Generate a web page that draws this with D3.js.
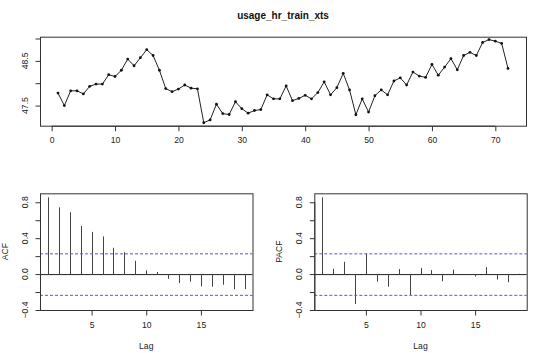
<!DOCTYPE html>
<html>
<head>
<meta charset="utf-8">
<script src="https://cdn.jsdelivr.net/npm/d3@7"></script>
<style>
  html, body { margin: 0; padding: 0; background: #fff; }
  svg { display: block; font-family: "Liberation Sans", Arial, Helvetica, sans-serif; }
</style>
</head>
<body>
<svg id="chart" width="540" height="353"></svg>
<script>
// ---- Data ----
const title = "usage_hr_train_xts";
const usageValues = [
  47.78, 47.50, 47.83, 47.83, 47.76, 47.93, 47.98, 47.98, 48.19, 48.15,
  48.29, 48.54, 48.39, 48.57, 48.75, 48.62, 48.29, 47.88, 47.81, 47.87,
  47.96, 47.89, 47.875, 47.116, 47.18, 47.53, 47.32, 47.30, 47.585, 47.43,
  47.33, 47.39, 47.41, 47.74, 47.65, 47.65, 47.94, 47.61, 47.66, 47.73,
  47.65, 47.79, 48.03, 47.74, 47.90, 48.22, 47.85, 47.295, 47.65, 47.355,
  47.72, 47.85, 47.74, 48.05, 48.12, 47.96, 48.25, 48.16, 48.13, 48.42,
  48.18, 48.36, 48.55, 48.30, 48.62, 48.69, 48.62, 48.91, 48.975, 48.94,
  48.89, 48.33
];
const lags = [1,2,3,4,5,6,7,8,9,10,11,12,13,14,15,16,17,18,19];
const acfValues = [0.855, 0.744, 0.689, 0.537, 0.470, 0.419, 0.293, 0.244, 0.148, 0.041,
  0.022, -0.052, -0.100, -0.085, -0.137, -0.141, -0.119, -0.170, -0.167];
const pacfValues = [0.855, 0.059, 0.137, -0.333, 0.233, -0.085, -0.141, 0.056, -0.233, 0.067,
  0.044, -0.080, 0.050, -0.004, -0.027, 0.078, -0.061, -0.091, 0.003];
const confLimit = 0.231;
const tsXTicks = [0, 10, 20, 30, 40, 50, 60, 70];
const tsYTicks = [47.5, 48.0, 48.5, 49.0];
const tsYLabels = [47.5, 48.5];
const cfXTicks = [5, 10, 15];
const cfYTicks = [-0.4, -0.2, 0.0, 0.2, 0.4, 0.6, 0.8];
const cfYLabels = [-0.4, 0.0, 0.4, 0.8];

const svg = d3.select("#chart");
const FS = 8.6;
const TXT = "#222";
const AX = "#333";

function box(g, x0, x1, y0, y1) {
  g.append("rect").attr("x", x0 + 0.5).attr("y", y0 + 0.5)
    .attr("width", x1 - x0).attr("height", y1 - y0)
    .attr("fill", "none").attr("stroke", AX).attr("stroke-width", 1);
}

function xAxis(g, scale, ticks, y) {
  const a = d3.axisBottom(scale).tickValues(ticks).tickSize(5).tickPadding(6)
    .tickFormat(d3.format("d"));
  const ag = g.append("g").attr("transform", `translate(0,${y + 0.5})`).call(a);
  ag.select(".domain").attr("stroke", AX)
    .attr("d", `M${scale(ticks[0])},0H${scale(ticks[ticks.length - 1])}`);
  ag.selectAll(".tick line").attr("stroke", AX);
  ag.selectAll(".tick text").attr("fill", TXT).style("font-size", FS + "px")
    .style("font-family", "Liberation Sans, Arial, sans-serif");
}

function yAxis(g, scale, ticks, labels, x, fmt) {
  const a = d3.axisLeft(scale).tickValues(ticks).tickSize(5).tickFormat("");
  const ag = g.append("g").attr("transform", `translate(${x + 0.5},0)`).call(a);
  ag.select(".domain").attr("stroke", AX)
    .attr("d", `M0,${scale(ticks[0])}V${scale(ticks[ticks.length - 1])}`);
  ag.selectAll(".tick line").attr("stroke", AX);
  labels.forEach(v => {
    g.append("text")
      .attr("transform", `translate(${x - 12},${scale(v)}) rotate(-90)`)
      .attr("text-anchor", "middle")
      .attr("fill", TXT).style("font-size", FS + "px")
      .text(fmt(v));
  });
}

// ---- Top: time series ----
{
  const L = 40, R = 526, T = 36.7, B = 125.7;
  const x = d3.scaleLinear().domain([1 - 0.04 * 71, 72 + 0.04 * 71]).range([L, R]);
  const y = d3.scaleLinear().domain([47.05, 49.04]).range([B, T]);
  const g = svg.append("g");
  svg.append("text").attr("x", (L + R) / 2).attr("y", 19)
    .attr("text-anchor", "middle").attr("font-weight", "bold")
    .attr("fill", "#111").style("font-size", "10px").text(title);
  const pts = usageValues.map((v, i) => [i + 1, v]);
  g.append("path").datum(pts)
    .attr("d", d3.line().x(d => x(d[0])).y(d => y(d[1])))
    .attr("fill", "none").attr("stroke", "#222").attr("stroke-width", 1);
  g.selectAll("circle").data(pts).enter().append("circle")
    .attr("cx", d => x(d[0])).attr("cy", d => y(d[1])).attr("r", 1.4)
    .attr("fill", "#111");
  box(g, L, R, T, B);
  xAxis(g, x, tsXTicks, B);
  yAxis(g, y, tsYTicks, tsYLabels, L, d3.format(".1f"));
}

// ---- Bottom: ACF / PACF ----
function cfPanel(L, R, values, ylab, ylabX, tickLabX) {
  const T = 193.3, B = 310;
  const x = d3.scaleLinear().domain([0.28, 19.72]).range([L, R]);
  const y = d3.scaleLinear().domain([-0.4, 0.9]).range([B, T]);
  const g = svg.append("g");
  g.append("line").attr("x1", L).attr("x2", R)
    .attr("y1", y(0) + 0.5).attr("y2", y(0) + 0.5)
    .attr("stroke", "#222").attr("stroke-width", 1);
  g.selectAll("line.bar").data(lags.map((l, i) => [l, values[i]])).enter()
    .append("line").attr("class", "bar")
    .attr("x1", d => Math.round(x(d[0])) + 0.5).attr("x2", d => Math.round(x(d[0])) + 0.5)
    .attr("y1", y(0)).attr("y2", d => y(d[1]))
    .attr("stroke", "#444").attr("stroke-width", 1);
  [confLimit, -confLimit].forEach(c => {
    g.append("line").attr("x1", L).attr("x2", R)
      .attr("y1", y(c) + 0.5).attr("y2", y(c) + 0.5)
      .attr("stroke", "#5a5ac8").attr("stroke-width", 1)
      .attr("stroke-dasharray", "3,2");
  });
  box(g, L, R, T, B);
  xAxis(g, x, cfXTicks, B);
  const a = d3.axisLeft(y).tickValues(cfYTicks).tickSize(5).tickFormat("");
  const ag = g.append("g").attr("transform", `translate(${L + 0.5},0)`).call(a);
  ag.select(".domain").attr("stroke", AX)
    .attr("d", `M0,${y(cfYTicks[0])}V${y(cfYTicks[cfYTicks.length - 1])}`);
  ag.selectAll(".tick line").attr("stroke", AX);
  cfYLabels.forEach(v => {
    g.append("text")
      .attr("transform", `translate(${tickLabX},${y(v)}) rotate(-90)`)
      .attr("text-anchor", "middle")
      .attr("fill", TXT).style("font-size", FS + "px")
      .text(d3.format(".1f")(v));
  });
  g.append("text").attr("x", (L + R) / 2).attr("y", 349)
    .attr("text-anchor", "middle").attr("fill", TXT)
    .style("font-size", FS + "px").text("Lag");
  g.append("text")
    .attr("transform", `translate(${ylabX},${(T + B) / 2}) rotate(-90)`)
    .attr("text-anchor", "middle").attr("fill", TXT)
    .style("font-size", FS + "px").text(ylab);
}

cfPanel(40, 252.5, acfValues, "ACF", 8, 28);
cfPanel(314.3, 526.7, pacfValues, "PACF", 281.5, 301.5);
</script>
</body>
</html>
